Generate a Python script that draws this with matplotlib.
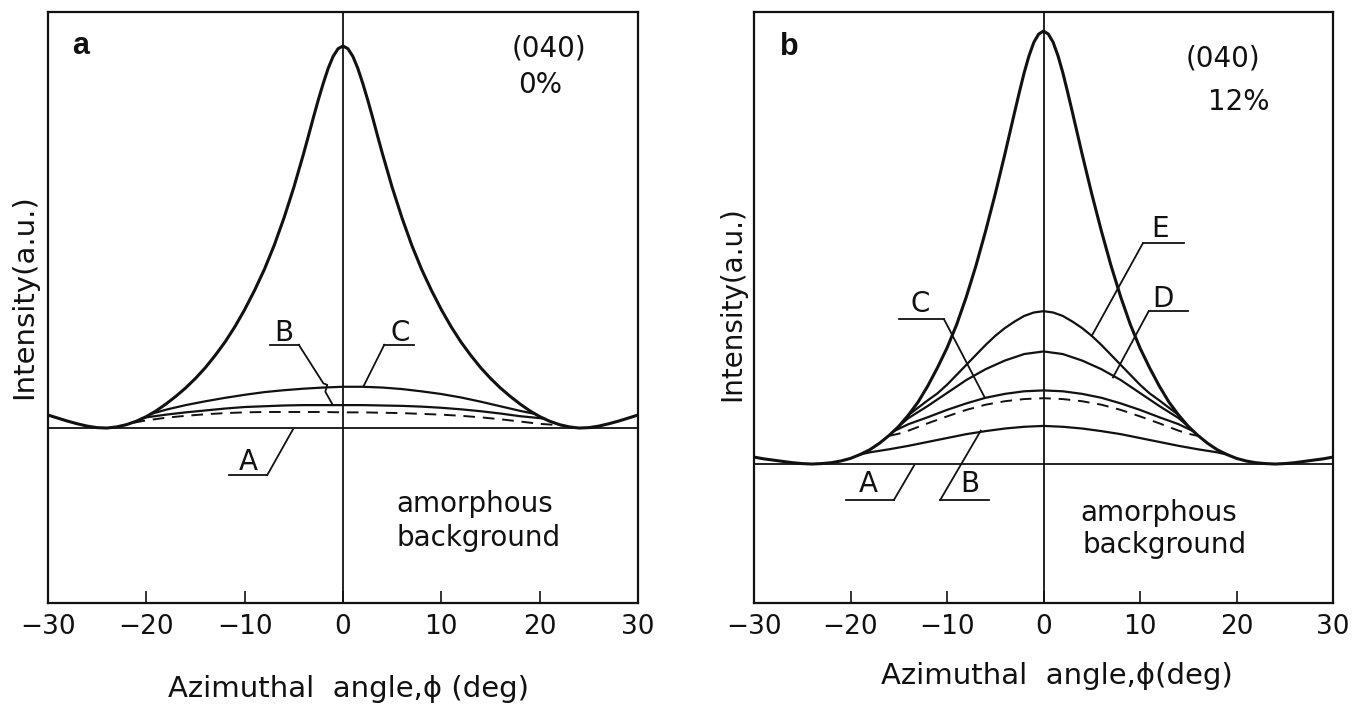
import matplotlib
matplotlib.use("Agg")
import matplotlib.pyplot as plt

W, H = 1362, 706
FONT = "DejaVu Sans"
INK = "#111111"

# ---- panel a: (040), 0% ----
a_x = [-30, -29, -28, -27, -26, -25, -24, -23, -22, -21, -20, -19, -18, -17, -16, -15, -14, -13, -12, -11,
       -10, -9, -8, -7, -6, -5, -4, -3.5, -3, -2.5, -2, -1.5, -1, -0.5, 0, 0.5, 1, 1.5, 2, 2.5, 3, 3.5, 4, 5, 6, 7,
       8, 9, 10, 11, 12, 13, 14, 15, 16, 17, 18, 19, 20, 21, 22, 23, 24, 25, 26, 27, 28, 29, 30]
a_main = [3.4, 2.6, 1.8, 1.1, 0.5, 0.1, 0.0, 0.3, 0.9, 1.8, 3.0, 4.5, 6.3, 8.3, 10.5, 13.0, 15.8, 19.0, 22.5, 26.5,
          31.0, 36.0, 41.5, 47.8, 55.0, 63.0, 71.9, 76.6, 81.4, 86.0, 90.3, 94.2, 97.3, 99.3, 100.0, 99.3, 97.3, 94.2, 90.3, 86.0, 81.4, 76.6, 71.9, 63.0, 55.0, 47.8,
          41.5, 36.0, 31.0, 26.5, 22.5, 19.0, 15.8, 13.0, 10.5, 8.3, 6.3, 4.5, 3.0, 1.8, 0.9, 0.3, 0.0, 0.1, 0.5, 1.1, 1.8, 2.6, 3.4]

a_C_x = [-19.5, -18, -16, -14, -12, -10, -8, -6, -4, -2, 0, 2, 4, 6, 8, 10, 12, 14, 16, 18, 19.5]
a_C = [3.7, 4.8, 6.0, 7.0, 7.9, 8.7, 9.4, 9.9, 10.3, 10.6, 10.8, 10.8, 10.6, 10.2, 9.6, 8.9, 8.0, 6.9, 5.7, 4.5, 3.7]
a_B_x = [-20.5, -20, -18, -16, -14, -12, -10, -8, -6, -4, -2, 0, 2, 4, 6, 8, 10, 12, 14, 16, 18, 20, 20.5]
a_B = [2.4, 2.8, 3.5, 4.1, 4.6, 5.1, 5.5, 5.7, 5.9, 6.0, 6.0, 6.0, 6.0, 5.9, 5.8, 5.6, 5.3, 4.9, 4.4, 3.8, 3.1, 2.6, 2.4]
a_dash_x = [-21.3, -20, -18, -16, -14, -12, -10, -8, -6, -4, -2, 0, 2, 4, 6, 8, 10, 12, 14, 16, 18, 20, 22.2]
a_dash = [1.4, 2.0, 2.7, 3.2, 3.6, 3.9, 4.1, 4.2, 4.2, 4.2, 4.2, 4.1, 4.1, 4.0, 3.9, 3.7, 3.5, 3.2, 2.8, 2.3, 1.7, 1.1, 0.7]

# ---- panel b: (040), 12% ----
b_x = [-30, -29, -28, -27, -26, -25, -24, -23, -22, -21, -20, -19, -18, -17, -16, -15, -14, -13, -12, -11,
       -10, -9, -8, -7, -6, -5, -4, -3, -2.5, -2, -1.5, -1, -0.5, 0, 0.5, 1, 1.5, 2, 2.5, 3, 4, 5, 6, 7,
       8, 9, 10, 11, 12, 13, 14, 15, 16, 17, 18, 19, 20, 21, 22, 23, 24, 25, 26, 27, 28, 29, 30]
b_main = [1.6, 1.2, 0.9, 0.6, 0.3, 0.1, 0.0, 0.1, 0.3, 0.7, 1.3, 2.2, 3.3, 4.8, 6.6, 8.7, 11.3, 14.3, 18.0, 22.2,
          26.8, 32.2, 38.6, 45.8, 53.8, 62.4, 71.6, 81.2, 85.9, 90.4, 94.3, 97.4, 99.3, 100.0, 99.3, 97.4, 94.3, 90.4, 85.9, 81.2, 71.6, 62.4, 53.8, 45.8,
          38.6, 32.2, 26.8, 22.2, 18.0, 14.3, 11.3, 8.7, 6.6, 4.8, 3.3, 2.2, 1.3, 0.7, 0.3, 0.1, 0.0, 0.1, 0.3, 0.6, 0.9, 1.2, 1.6]

b_E_x = [-14, -13, -12, -11, -10, -9, -8, -7, -6, -5, -4, -3, -2, -1, 0, 1, 2, 3, 4, 5, 6, 7, 8, 9, 10, 11, 12, 13, 14]
b_E = [11.3, 13.0, 14.7, 16.3, 18.3, 20.6, 22.9, 25.2, 27.5, 29.6, 31.4, 32.9, 34.2, 35.0, 35.3, 35.0, 34.2, 32.9, 31.4, 29.6, 27.5, 25.2,
       22.9, 20.6, 18.3, 16.3, 14.7, 13.0, 11.3]
b_D_x = [-15, -14, -12, -10, -8, -6, -4, -2, 0, 2, 4, 6, 8, 10, 12, 14, 15]
b_D = [8.7, 10.6, 13.4, 16.4, 19.4, 21.9, 23.9, 25.4, 26.0, 25.4, 23.9, 21.9, 19.4, 16.4, 13.4, 10.6, 8.7]
b_C_x = [-15.5, -14, -12, -10, -8, -6, -4, -2, 0, 2, 4, 6, 8, 10, 12, 14, 15.5]
b_C = [7.6, 9.2, 10.8, 12.5, 14.0, 15.3, 16.2, 16.8, 17.0, 16.8, 16.2, 15.3, 14.0, 12.5, 10.8, 9.2, 7.6]
b_dash_x = [-16, -15, -14, -12, -10, -8, -6, -4, -2, 0, 2, 4, 6, 8, 10, 12, 14, 15, 16]
b_dash = [6.5, 7.0, 7.7, 9.4, 11.0, 12.5, 13.7, 14.5, 15.0, 15.2, 15.0, 14.5, 13.7, 12.5, 11.0, 9.4, 7.7, 7.0, 6.5]
b_B_x = [-19, -18, -16, -14, -12, -10, -8, -6, -4, -2, 0, 2, 4, 6, 8, 10, 12, 14, 16, 18, 19]
b_B = [2.2, 2.7, 3.4, 4.2, 5.1, 6.0, 6.9, 7.6, 8.2, 8.6, 8.8, 8.6, 8.2, 7.6, 6.9, 6.0, 5.1, 4.2, 3.4, 2.7, 2.2]

x_ticks = [-30, -20, -10, 0, 10, 20, 30]
x_ticklabels = ["\u221230", "\u221220", "\u221210", "0", "10", "20", "30"]

# curve labels: (text, text pos, (underline x0, x1), underline y, leader polyline)
a_labels = [
    ("B", (-6.0, 24.8), (-7.4, -4.5), 21.8,
     [(-4.5, 21.8), (-2.0, 11.7), (-1.6, 11.3), (-1.8, 9.5), (-1.05, 6.1)]),
    ("C", (5.8, 24.8), (4.2, 7.2), 21.8, [(4.2, 21.8), (2.1, 11.0)]),
    ("A", (-9.6, -9.0), (-11.6, -7.7), -12.3, [(-7.7, -12.3), (-5.1, -0.4)]),
]
b_labels = [
    ("E", (12.1, 54.2), (10.3, 14.6), 51.0, [(10.3, 51.0), (5.0, 29.6)]),
    ("D", (12.4, 38.2), (10.9, 15.0), 35.3, [(10.9, 35.3), (7.2, 20.0)]),
    ("C", (-12.8, 36.9), (-15.0, -10.3), 33.4, [(-10.3, 33.4), (-6.1, 15.4)]),
    ("A", (-18.2, -4.7), (-20.5, -15.5), -8.3, [(-15.5, -8.3), (-13.4, -0.3)]),
    ("B", (-7.6, -4.7), (-10.7, -5.6), -8.3, [(-10.7, -8.3), (-6.5, 7.7)]),
]

plt.rcParams["font.family"] = FONT

fig = plt.figure(figsize=(W / 100, H / 100), dpi=100)
fig.patch.set_facecolor("white")


def fig_text(px, py, s, **kw):
    fig.text(px / W, 1 - py / H, s, ha="center", va="center", color=INK, **kw)


def setup_axes(rect, ylim):
    ax = fig.add_axes(rect)
    ax.set_xlim(-30, 30)
    ax.set_ylim(*ylim)
    for sp in ax.spines.values():
        sp.set_linewidth(1.6)
        sp.set_color(INK)
    ax.set_yticks([])
    ax.set_xticks(x_ticks)
    ax.set_xticklabels(x_ticklabels, fontsize=19)
    ax.tick_params(axis="x", direction="in", length=9, width=1.2, pad=8, colors=INK)
    ax.axhline(0, color=INK, lw=1.3, zorder=2)
    ax.axvline(0, color=INK, lw=1.3, zorder=2)
    return ax


def draw_labels(ax, labels):
    for name, tpos, (u0, u1), uy, leader in labels:
        ax.text(tpos[0], tpos[1], name, ha="center", va="center", fontsize=20, color=INK)
        ax.plot([u0, u1], [uy, uy], color=INK, lw=1.3, clip_on=False)
        ax.plot([p[0] for p in leader], [p[1] for p in leader], color=INK, lw=1.3, clip_on=False)


# panel a
ax_a = setup_axes([48 / W, 1 - 603 / H, 590 / W, 591 / H], (-45.8, 108.9))
ax_a.plot(a_x, a_main, color=INK, lw=2.2, zorder=3)
ax_a.plot(a_C_x, a_C, color=INK, lw=1.6, zorder=3)
ax_a.plot(a_B_x, a_B, color=INK, lw=1.6, zorder=3)
ax_a.plot(a_dash_x, a_dash, color=INK, lw=1.4, ls=(0, (6, 4)), zorder=3)
draw_labels(ax_a, a_labels)

# panel b
ax_b = setup_axes([754 / W, 1 - 603 / H, 579 / W, 591 / H], (-32.1, 104.4))
ax_b.plot(b_x, b_main, color=INK, lw=2.2, zorder=3)
ax_b.plot(b_E_x, b_E, color=INK, lw=1.6, zorder=3)
ax_b.plot(b_D_x, b_D, color=INK, lw=1.6, zorder=3)
ax_b.plot(b_C_x, b_C, color=INK, lw=1.6, zorder=3)
ax_b.plot(b_dash_x, b_dash, color=INK, lw=1.4, ls=(0, (6, 4)), zorder=3)
ax_b.plot(b_B_x, b_B, color=INK, lw=1.6, zorder=3)
draw_labels(ax_b, b_labels)

# panel texts
fig.text(72 / W, 1 - 54 / H, "a", fontsize=22, fontweight="bold", family="Liberation Sans", color=INK)
fig_text(549, 49, "(040)", fontsize=20)
fig_text(540, 85, "0%", fontsize=20)
fig_text(475, 504, "amorphous", fontsize=20)
fig_text(479, 538, "background", fontsize=20)
fig_text(24, 297, "Intensity(a.u.)", fontsize=21, rotation=90)
fig_text(349, 689, "Azimuthal  angle,\u03d5 (deg)", fontsize=21)

fig.text(780 / W, 1 - 55 / H, "b", fontsize=22, fontweight="bold", family="Liberation Sans", color=INK)
fig_text(1223, 59, "(040)", fontsize=20)
fig_text(1239, 102, "12%", fontsize=20)
fig_text(1159, 513, "amorphous", fontsize=20)
fig_text(1165, 545, "background", fontsize=20)
fig_text(732, 304, "Intensity(a.u.)", fontsize=20, rotation=90)
fig_text(1057, 676, "Azimuthal  angle,\u03d5(deg)", fontsize=21)

fig.savefig("out.png", dpi=100, facecolor="white")
